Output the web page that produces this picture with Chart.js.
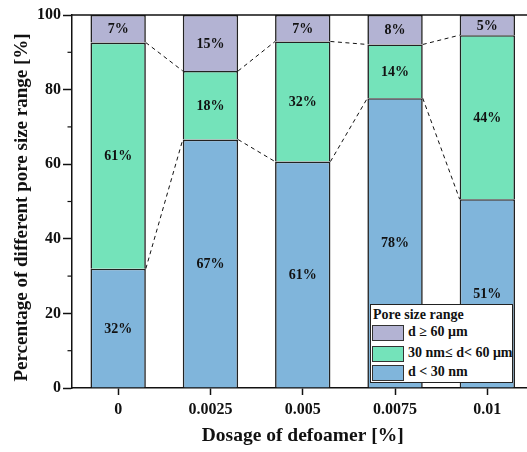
<!DOCTYPE html>
<html>
<head>
<meta charset="utf-8">
<script src="https://cdn.jsdelivr.net/npm/chart.js@4"></script>
<style>
  html, body { margin: 0; padding: 0; background: #fff; overflow: hidden; }
  #wrap { position: relative; width: 545px; height: 452px; }
  #legend {
    position: absolute; left: 370px; top: 304px; width: 141px; height: 77px;
    border: 1px solid #222; background: #fff;
    font: bold 14px "Liberation Serif", "Times New Roman", serif; color: #111;
  }
  #legend .title { position: absolute; left: 2px; top: 2px; }
  #legend .row { position: absolute; left: 1px; height: 16px; }
  #legend .sw { position: absolute; left: 0; top: 0; width: 30px; height: 14px; border: 1px solid #333; }
  #legend .txt { position: absolute; left: 36px; top: -1px; white-space: nowrap; line-height: 16px; }
</style>
</head>
<body>
<div id="wrap">
  <canvas id="chart" width="545" height="452"></canvas>
  <div id="legend"><div class="title">Pore size range</div></div>
</div>
<script>
const { Chart } = window;

const categories = ["0", "0.0025", "0.005", "0.0075", "0.01"];
const small = [32.0, 66.6, 60.7, 77.7, 50.6];   // d < 30 nm
const medium = [60.6, 18.4, 32.2, 14.4, 44.0];  // 30 nm ≤ d < 60 μm
const large = [7.4, 15.0, 7.1, 7.9, 5.4];       // d ≥ 60 μm
const seriesNames = ["d < 30 nm", "30 nm≤ d< 60 μm", "d ≥ 60 μm"];
const seriesColors = ["#80b5db", "#74e3ba", "#b3b3d3"];
const yTitle = "Percentage of different pore size range [%]";

const serif = "'Liberation Serif', 'Times New Roman', serif";

// dashed connectors between the segment tops of neighbouring bars
const connectors = {
  id: "connectors",
  afterDatasetsDraw(chart) {
    const { ctx } = chart;
    ctx.save();
    ctx.strokeStyle = "#111";
    ctx.lineWidth = 1;
    ctx.setLineDash([4, 3.5]);
    [0, 1].forEach((d) => {
      const bars = chart.getDatasetMeta(d).data;
      for (let i = 0; i < bars.length - 1; i++) {
        const a = bars[i], b = bars[i + 1];
        ctx.beginPath();
        ctx.moveTo(a.x + a.width / 2, a.y);
        ctx.lineTo(b.x - b.width / 2, b.y);
        ctx.stroke();
      }
    });
    ctx.restore();
  }
};

// percent labels in the middle of each segment, top frame, minor ticks, y title
const extras = {
  id: "extras",
  afterDraw(chart) {
    const { ctx, chartArea } = chart;
    const y = chart.scales.y;
    ctx.save();
    ctx.font = `bold 14px ${serif}`;
    ctx.fillStyle = "#111";
    ctx.textAlign = "center";
    ctx.textBaseline = "middle";
    chart.data.datasets.forEach((ds, d) => {
      chart.getDatasetMeta(d).data.forEach((bar, i) => {
        ctx.fillText(Math.round(ds.data[i]) + "%", bar.x, (bar.y + bar.base) / 2 + 1);
      });
    });
    ctx.strokeStyle = "#111";
    ctx.lineWidth = 1.5;
    ctx.beginPath();
    ctx.moveTo(chartArea.left, chartArea.top);
    ctx.lineTo(chartArea.right + 20, chartArea.top);
    ctx.stroke();
    ctx.lineWidth = 1.2;
    for (let v = 10; v < 100; v += 20) {
      const py = y.getPixelForValue(v);
      ctx.beginPath();
      ctx.moveTo(chartArea.left - 4.5, py);
      ctx.lineTo(chartArea.left, py);
      ctx.stroke();
    }
    ctx.translate(22, (chartArea.top + chartArea.bottom) / 2 + 6);
    ctx.rotate(-Math.PI / 2);
    ctx.font = `bold 19px ${serif}`;
    ctx.fillText(yTitle, 0, 0);
    ctx.restore();
  }
};

new Chart(document.getElementById("chart"), {
  type: "bar",
  data: {
    labels: categories,
    datasets: [
      { label: seriesNames[0], data: small, backgroundColor: seriesColors[0] },
      { label: seriesNames[1], data: medium, backgroundColor: seriesColors[1] },
      { label: seriesNames[2], data: large, backgroundColor: seriesColors[2] }
    ].map((ds) => ({ ...ds, borderColor: "#222", borderWidth: 1.6, categoryPercentage: 0.6, barPercentage: 1 }))
  },
  options: {
    responsive: false,
    animation: false,
    layout: { padding: { top: 15, left: 0, right: 11.5, bottom: 0 } },
    plugins: { legend: { display: false }, tooltip: { enabled: false } },
    scales: {
      x: {
        stacked: true,
        afterFit(scale) { scale.height = 64; },
        grid: { drawOnChartArea: false, offset: false, tickLength: 7, tickColor: "#111", tickWidth: 1.5 },
        border: { color: "#111", width: 1.5 },
        ticks: { color: "#111", padding: 5, font: { family: serif, size: 16, weight: "bold" } },
        title: { display: true, text: "Dosage of defoamer [%]", color: "#111", padding: { bottom: 4 }, font: { family: serif, size: 19.5, weight: "bold" } }
      },
      y: {
        stacked: true,
        min: 0,
        max: 100,
        afterFit(scale) { scale.width = 72; },
        grid: { drawOnChartArea: false, tickLength: 9, tickColor: "#111", tickWidth: 1.5 },
        border: { color: "#111", width: 1.5 },
        ticks: { stepSize: 20, color: "#111", padding: 2, font: { family: serif, size: 16, weight: "bold" } }
      }
    }
  },
  plugins: [connectors, extras]
});

// legend, largest pores first
const legend = document.getElementById("legend");
const rowTops = [20, 41, 60];
[2, 1, 0].forEach((d, k) => {
  const row = document.createElement("div");
  row.className = "row";
  row.style.top = rowTops[k] + "px";
  row.innerHTML = `<div class="sw" style="background:${seriesColors[d]}"></div><div class="txt">${seriesNames[d]}</div>`;
  legend.appendChild(row);
});
</script>
</body>
</html>
